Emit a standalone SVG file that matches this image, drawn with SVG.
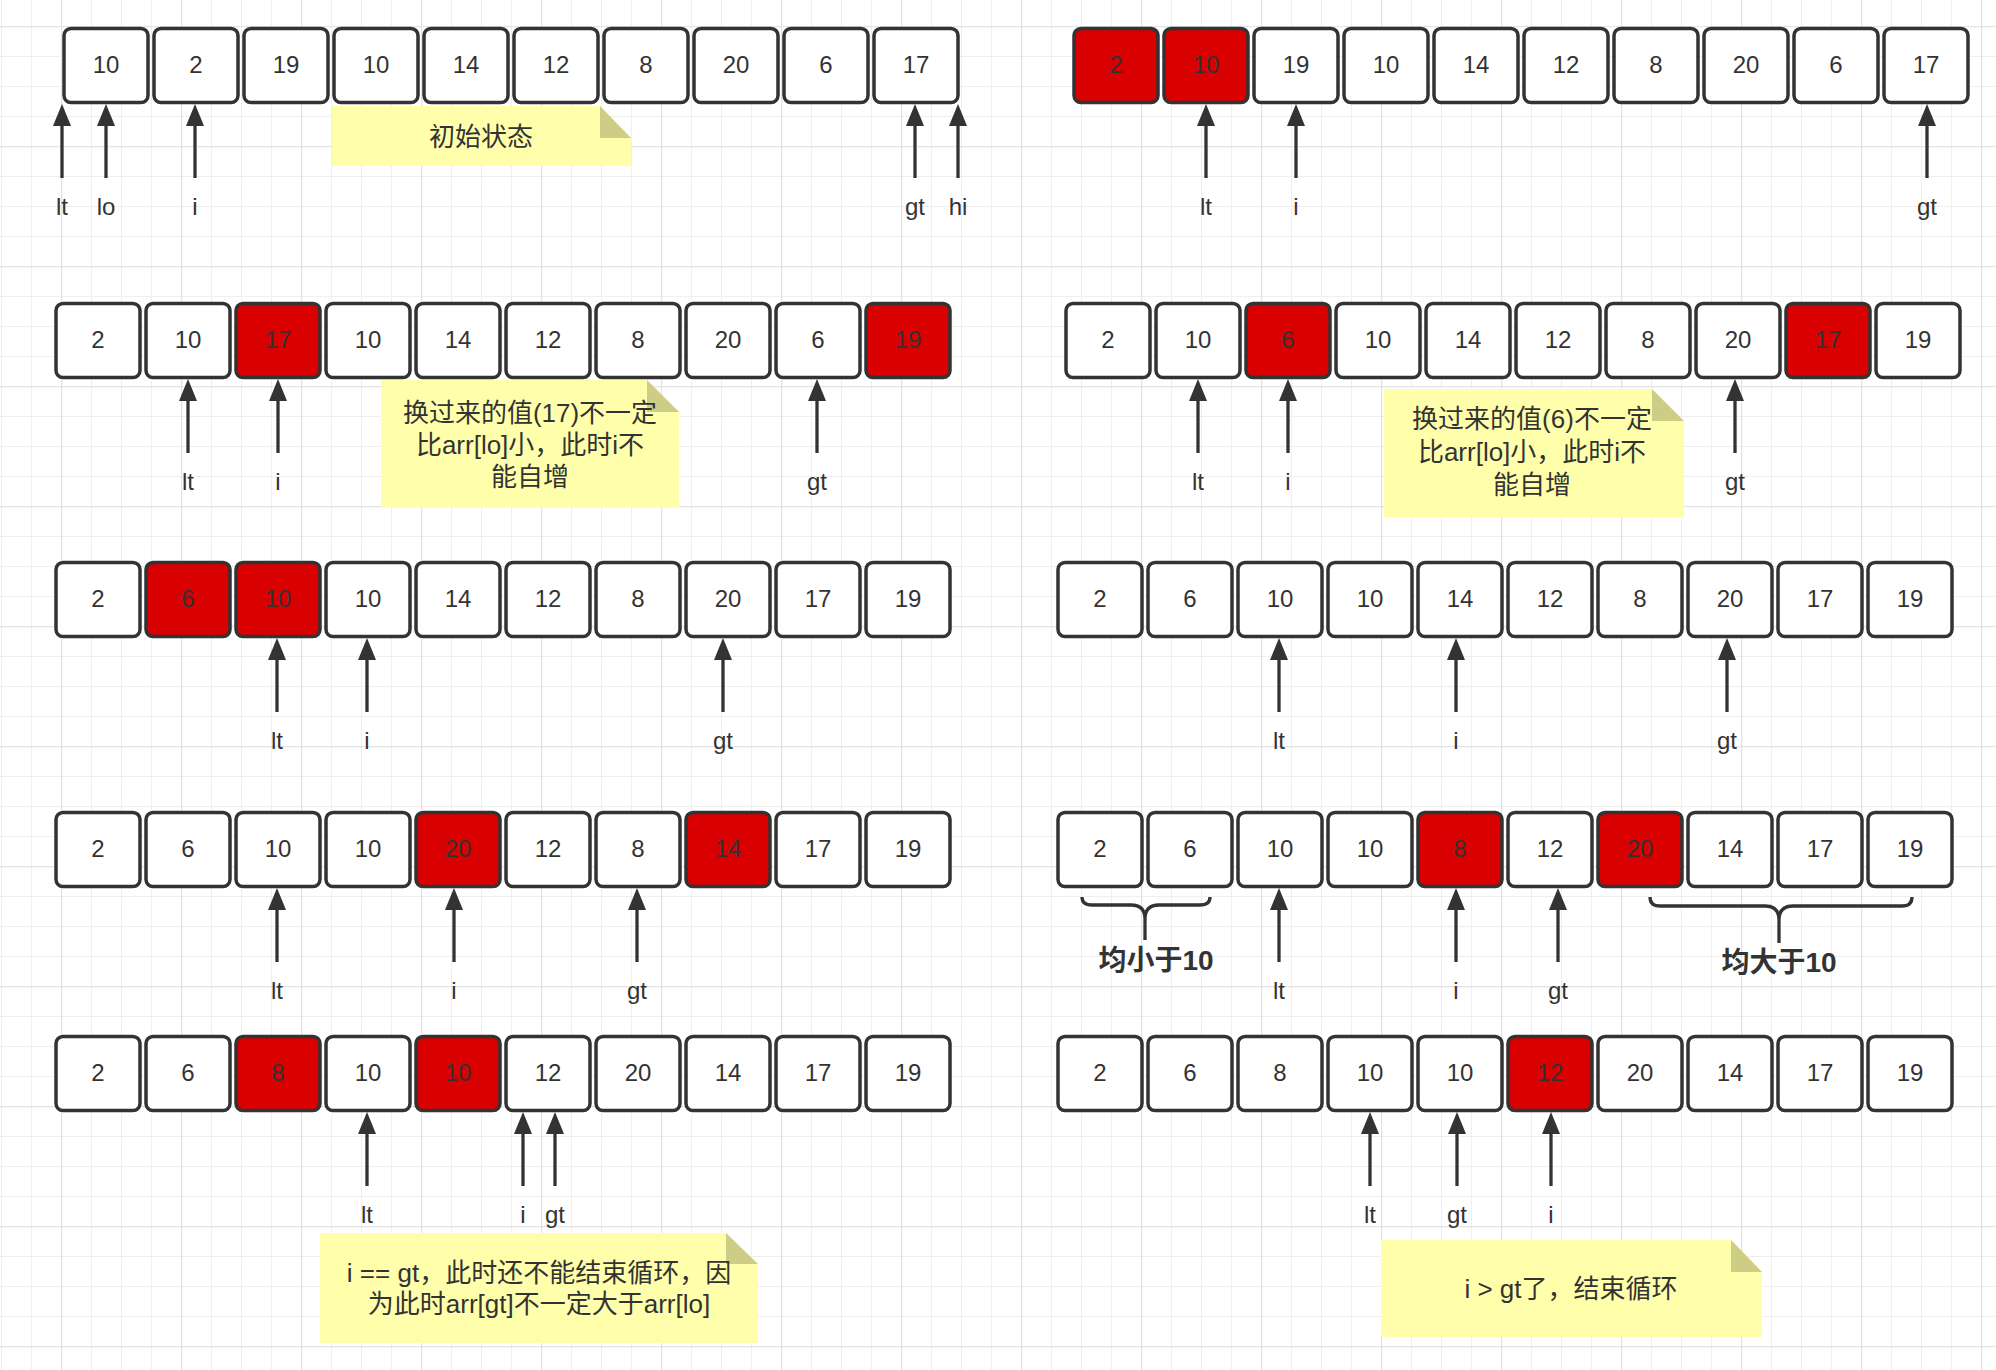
<svg xmlns="http://www.w3.org/2000/svg" width="1996" height="1370" viewBox="0 0 1996 1370">
<defs>
<pattern id="grid" x="61" y="26" width="120" height="120" patternUnits="userSpaceOnUse">
<path d="M30.5 0V120M60.5 0V120M90.5 0V120M0 30.5H120M0 60.5H120M0 90.5H120" stroke="#efefef" stroke-width="1" fill="none"/>
<path d="M0.5 0V120M0 0.5H120" stroke="#e3e3e3" stroke-width="1.5" fill="none"/>
</pattern>
<marker id="ah" viewBox="0 0 22 18" refX="9" refY="9" markerWidth="22" markerHeight="18" markerUnits="userSpaceOnUse" orient="auto">
<path d="M0 0L22 9L0 18Z" fill="#333"/>
</marker>
</defs>
<style>
.b{fill:#fff;stroke:#333;stroke-width:3.5}
.r{fill:#d80000;stroke:#333;stroke-width:3.5}
.t{font-family:"Liberation Sans","Noto Sans CJK SC",sans-serif;font-size:24px;fill:#333;text-anchor:middle}
.n{font-family:"Liberation Sans","Noto Sans CJK SC",sans-serif;font-size:26px;fill:#333;text-anchor:middle}
.bl{font-family:"Liberation Sans","Noto Sans CJK SC",sans-serif;font-size:28px;font-weight:bold;fill:#333;text-anchor:middle}
.a{stroke:#333;stroke-width:3.3;fill:none;marker-end:url(#ah)}
.note{fill:#ffffab}
.fold{fill:#cdcd85}
.br{stroke:#333;stroke-width:3.3;fill:none}
</style>
<rect width="1996" height="1370" fill="#fff"/>
<rect width="1996" height="1370" fill="url(#grid)"/>

<!-- Row 1 left -->
<g id="r1l">
<g id="r1l-0"><rect class="b" x="64" y="28.5" width="84" height="74" rx="7"/><text class="t" x="106" y="73">10</text></g>
<g id="r1l-1"><rect class="b" x="154" y="28.5" width="84" height="74" rx="7"/><text class="t" x="196" y="73">2</text></g>
<g id="r1l-2"><rect class="b" x="244" y="28.5" width="84" height="74" rx="7"/><text class="t" x="286" y="73">19</text></g>
<g id="r1l-3"><rect class="b" x="334" y="28.5" width="84" height="74" rx="7"/><text class="t" x="376" y="73">10</text></g>
<g id="r1l-4"><rect class="b" x="424" y="28.5" width="84" height="74" rx="7"/><text class="t" x="466" y="73">14</text></g>
<g id="r1l-5"><rect class="b" x="514" y="28.5" width="84" height="74" rx="7"/><text class="t" x="556" y="73">12</text></g>
<g id="r1l-6"><rect class="b" x="604" y="28.5" width="84" height="74" rx="7"/><text class="t" x="646" y="73">8</text></g>
<g id="r1l-7"><rect class="b" x="694" y="28.5" width="84" height="74" rx="7"/><text class="t" x="736" y="73">20</text></g>
<g id="r1l-8"><rect class="b" x="784" y="28.5" width="84" height="74" rx="7"/><text class="t" x="826" y="73">6</text></g>
<g id="r1l-9"><rect class="b" x="874" y="28.5" width="84" height="74" rx="7"/><text class="t" x="916" y="73">17</text></g>
</g>
<!-- Row 1 right -->
<g id="r1r">
<g id="r1r-0"><rect class="r" x="1074" y="28.5" width="84" height="74" rx="7"/><text class="t" x="1116" y="73">2</text></g>
<g id="r1r-1"><rect class="r" x="1164" y="28.5" width="84" height="74" rx="7"/><text class="t" x="1206" y="73">10</text></g>
<g id="r1r-2"><rect class="b" x="1254" y="28.5" width="84" height="74" rx="7"/><text class="t" x="1296" y="73">19</text></g>
<g id="r1r-3"><rect class="b" x="1344" y="28.5" width="84" height="74" rx="7"/><text class="t" x="1386" y="73">10</text></g>
<g id="r1r-4"><rect class="b" x="1434" y="28.5" width="84" height="74" rx="7"/><text class="t" x="1476" y="73">14</text></g>
<g id="r1r-5"><rect class="b" x="1524" y="28.5" width="84" height="74" rx="7"/><text class="t" x="1566" y="73">12</text></g>
<g id="r1r-6"><rect class="b" x="1614" y="28.5" width="84" height="74" rx="7"/><text class="t" x="1656" y="73">8</text></g>
<g id="r1r-7"><rect class="b" x="1704" y="28.5" width="84" height="74" rx="7"/><text class="t" x="1746" y="73">20</text></g>
<g id="r1r-8"><rect class="b" x="1794" y="28.5" width="84" height="74" rx="7"/><text class="t" x="1836" y="73">6</text></g>
<g id="r1r-9"><rect class="b" x="1884" y="28.5" width="84" height="74" rx="7"/><text class="t" x="1926" y="73">17</text></g>
</g>
<!-- Row 2 left -->
<g id="r2l">
<g id="r2l-0"><rect class="b" x="56" y="303.5" width="84" height="74" rx="7"/><text class="t" x="98" y="348">2</text></g>
<g id="r2l-1"><rect class="b" x="146" y="303.5" width="84" height="74" rx="7"/><text class="t" x="188" y="348">10</text></g>
<g id="r2l-2"><rect class="r" x="236" y="303.5" width="84" height="74" rx="7"/><text class="t" x="278" y="348">17</text></g>
<g id="r2l-3"><rect class="b" x="326" y="303.5" width="84" height="74" rx="7"/><text class="t" x="368" y="348">10</text></g>
<g id="r2l-4"><rect class="b" x="416" y="303.5" width="84" height="74" rx="7"/><text class="t" x="458" y="348">14</text></g>
<g id="r2l-5"><rect class="b" x="506" y="303.5" width="84" height="74" rx="7"/><text class="t" x="548" y="348">12</text></g>
<g id="r2l-6"><rect class="b" x="596" y="303.5" width="84" height="74" rx="7"/><text class="t" x="638" y="348">8</text></g>
<g id="r2l-7"><rect class="b" x="686" y="303.5" width="84" height="74" rx="7"/><text class="t" x="728" y="348">20</text></g>
<g id="r2l-8"><rect class="b" x="776" y="303.5" width="84" height="74" rx="7"/><text class="t" x="818" y="348">6</text></g>
<g id="r2l-9"><rect class="r" x="866" y="303.5" width="84" height="74" rx="7"/><text class="t" x="908" y="348">19</text></g>
</g>
<!-- Row 2 right -->
<g id="r2r">
<g id="r2r-0"><rect class="b" x="1066" y="303.5" width="84" height="74" rx="7"/><text class="t" x="1108" y="348">2</text></g>
<g id="r2r-1"><rect class="b" x="1156" y="303.5" width="84" height="74" rx="7"/><text class="t" x="1198" y="348">10</text></g>
<g id="r2r-2"><rect class="r" x="1246" y="303.5" width="84" height="74" rx="7"/><text class="t" x="1288" y="348">6</text></g>
<g id="r2r-3"><rect class="b" x="1336" y="303.5" width="84" height="74" rx="7"/><text class="t" x="1378" y="348">10</text></g>
<g id="r2r-4"><rect class="b" x="1426" y="303.5" width="84" height="74" rx="7"/><text class="t" x="1468" y="348">14</text></g>
<g id="r2r-5"><rect class="b" x="1516" y="303.5" width="84" height="74" rx="7"/><text class="t" x="1558" y="348">12</text></g>
<g id="r2r-6"><rect class="b" x="1606" y="303.5" width="84" height="74" rx="7"/><text class="t" x="1648" y="348">8</text></g>
<g id="r2r-7"><rect class="b" x="1696" y="303.5" width="84" height="74" rx="7"/><text class="t" x="1738" y="348">20</text></g>
<g id="r2r-8"><rect class="r" x="1786" y="303.5" width="84" height="74" rx="7"/><text class="t" x="1828" y="348">17</text></g>
<g id="r2r-9"><rect class="b" x="1876" y="303.5" width="84" height="74" rx="7"/><text class="t" x="1918" y="348">19</text></g>
</g>
<!-- Row 3 left -->
<g id="r3l">
<g id="r3l-0"><rect class="b" x="56" y="562.5" width="84" height="74" rx="7"/><text class="t" x="98" y="607">2</text></g>
<g id="r3l-1"><rect class="r" x="146" y="562.5" width="84" height="74" rx="7"/><text class="t" x="188" y="607">6</text></g>
<g id="r3l-2"><rect class="r" x="236" y="562.5" width="84" height="74" rx="7"/><text class="t" x="278" y="607">10</text></g>
<g id="r3l-3"><rect class="b" x="326" y="562.5" width="84" height="74" rx="7"/><text class="t" x="368" y="607">10</text></g>
<g id="r3l-4"><rect class="b" x="416" y="562.5" width="84" height="74" rx="7"/><text class="t" x="458" y="607">14</text></g>
<g id="r3l-5"><rect class="b" x="506" y="562.5" width="84" height="74" rx="7"/><text class="t" x="548" y="607">12</text></g>
<g id="r3l-6"><rect class="b" x="596" y="562.5" width="84" height="74" rx="7"/><text class="t" x="638" y="607">8</text></g>
<g id="r3l-7"><rect class="b" x="686" y="562.5" width="84" height="74" rx="7"/><text class="t" x="728" y="607">20</text></g>
<g id="r3l-8"><rect class="b" x="776" y="562.5" width="84" height="74" rx="7"/><text class="t" x="818" y="607">17</text></g>
<g id="r3l-9"><rect class="b" x="866" y="562.5" width="84" height="74" rx="7"/><text class="t" x="908" y="607">19</text></g>
</g>
<!-- Row 3 right -->
<g id="r3r">
<g id="r3r-0"><rect class="b" x="1058" y="562.5" width="84" height="74" rx="7"/><text class="t" x="1100" y="607">2</text></g>
<g id="r3r-1"><rect class="b" x="1148" y="562.5" width="84" height="74" rx="7"/><text class="t" x="1190" y="607">6</text></g>
<g id="r3r-2"><rect class="b" x="1238" y="562.5" width="84" height="74" rx="7"/><text class="t" x="1280" y="607">10</text></g>
<g id="r3r-3"><rect class="b" x="1328" y="562.5" width="84" height="74" rx="7"/><text class="t" x="1370" y="607">10</text></g>
<g id="r3r-4"><rect class="b" x="1418" y="562.5" width="84" height="74" rx="7"/><text class="t" x="1460" y="607">14</text></g>
<g id="r3r-5"><rect class="b" x="1508" y="562.5" width="84" height="74" rx="7"/><text class="t" x="1550" y="607">12</text></g>
<g id="r3r-6"><rect class="b" x="1598" y="562.5" width="84" height="74" rx="7"/><text class="t" x="1640" y="607">8</text></g>
<g id="r3r-7"><rect class="b" x="1688" y="562.5" width="84" height="74" rx="7"/><text class="t" x="1730" y="607">20</text></g>
<g id="r3r-8"><rect class="b" x="1778" y="562.5" width="84" height="74" rx="7"/><text class="t" x="1820" y="607">17</text></g>
<g id="r3r-9"><rect class="b" x="1868" y="562.5" width="84" height="74" rx="7"/><text class="t" x="1910" y="607">19</text></g>
</g>
<!-- Row 4 left -->
<g id="r4l">
<g id="r4l-0"><rect class="b" x="56" y="812.5" width="84" height="74" rx="7"/><text class="t" x="98" y="857">2</text></g>
<g id="r4l-1"><rect class="b" x="146" y="812.5" width="84" height="74" rx="7"/><text class="t" x="188" y="857">6</text></g>
<g id="r4l-2"><rect class="b" x="236" y="812.5" width="84" height="74" rx="7"/><text class="t" x="278" y="857">10</text></g>
<g id="r4l-3"><rect class="b" x="326" y="812.5" width="84" height="74" rx="7"/><text class="t" x="368" y="857">10</text></g>
<g id="r4l-4"><rect class="r" x="416" y="812.5" width="84" height="74" rx="7"/><text class="t" x="458" y="857">20</text></g>
<g id="r4l-5"><rect class="b" x="506" y="812.5" width="84" height="74" rx="7"/><text class="t" x="548" y="857">12</text></g>
<g id="r4l-6"><rect class="b" x="596" y="812.5" width="84" height="74" rx="7"/><text class="t" x="638" y="857">8</text></g>
<g id="r4l-7"><rect class="r" x="686" y="812.5" width="84" height="74" rx="7"/><text class="t" x="728" y="857">14</text></g>
<g id="r4l-8"><rect class="b" x="776" y="812.5" width="84" height="74" rx="7"/><text class="t" x="818" y="857">17</text></g>
<g id="r4l-9"><rect class="b" x="866" y="812.5" width="84" height="74" rx="7"/><text class="t" x="908" y="857">19</text></g>
</g>
<!-- Row 4 right -->
<g id="r4r">
<g id="r4r-0"><rect class="b" x="1058" y="812.5" width="84" height="74" rx="7"/><text class="t" x="1100" y="857">2</text></g>
<g id="r4r-1"><rect class="b" x="1148" y="812.5" width="84" height="74" rx="7"/><text class="t" x="1190" y="857">6</text></g>
<g id="r4r-2"><rect class="b" x="1238" y="812.5" width="84" height="74" rx="7"/><text class="t" x="1280" y="857">10</text></g>
<g id="r4r-3"><rect class="b" x="1328" y="812.5" width="84" height="74" rx="7"/><text class="t" x="1370" y="857">10</text></g>
<g id="r4r-4"><rect class="r" x="1418" y="812.5" width="84" height="74" rx="7"/><text class="t" x="1460" y="857">8</text></g>
<g id="r4r-5"><rect class="b" x="1508" y="812.5" width="84" height="74" rx="7"/><text class="t" x="1550" y="857">12</text></g>
<g id="r4r-6"><rect class="r" x="1598" y="812.5" width="84" height="74" rx="7"/><text class="t" x="1640" y="857">20</text></g>
<g id="r4r-7"><rect class="b" x="1688" y="812.5" width="84" height="74" rx="7"/><text class="t" x="1730" y="857">14</text></g>
<g id="r4r-8"><rect class="b" x="1778" y="812.5" width="84" height="74" rx="7"/><text class="t" x="1820" y="857">17</text></g>
<g id="r4r-9"><rect class="b" x="1868" y="812.5" width="84" height="74" rx="7"/><text class="t" x="1910" y="857">19</text></g>
</g>
<!-- Row 5 left -->
<g id="r5l">
<g id="r5l-0"><rect class="b" x="56" y="1036.5" width="84" height="74" rx="7"/><text class="t" x="98" y="1081">2</text></g>
<g id="r5l-1"><rect class="b" x="146" y="1036.5" width="84" height="74" rx="7"/><text class="t" x="188" y="1081">6</text></g>
<g id="r5l-2"><rect class="r" x="236" y="1036.5" width="84" height="74" rx="7"/><text class="t" x="278" y="1081">8</text></g>
<g id="r5l-3"><rect class="b" x="326" y="1036.5" width="84" height="74" rx="7"/><text class="t" x="368" y="1081">10</text></g>
<g id="r5l-4"><rect class="r" x="416" y="1036.5" width="84" height="74" rx="7"/><text class="t" x="458" y="1081">10</text></g>
<g id="r5l-5"><rect class="b" x="506" y="1036.5" width="84" height="74" rx="7"/><text class="t" x="548" y="1081">12</text></g>
<g id="r5l-6"><rect class="b" x="596" y="1036.5" width="84" height="74" rx="7"/><text class="t" x="638" y="1081">20</text></g>
<g id="r5l-7"><rect class="b" x="686" y="1036.5" width="84" height="74" rx="7"/><text class="t" x="728" y="1081">14</text></g>
<g id="r5l-8"><rect class="b" x="776" y="1036.5" width="84" height="74" rx="7"/><text class="t" x="818" y="1081">17</text></g>
<g id="r5l-9"><rect class="b" x="866" y="1036.5" width="84" height="74" rx="7"/><text class="t" x="908" y="1081">19</text></g>
</g>
<!-- Row 5 right -->
<g id="r5r">
<g id="r5r-0"><rect class="b" x="1058" y="1036.5" width="84" height="74" rx="7"/><text class="t" x="1100" y="1081">2</text></g>
<g id="r5r-1"><rect class="b" x="1148" y="1036.5" width="84" height="74" rx="7"/><text class="t" x="1190" y="1081">6</text></g>
<g id="r5r-2"><rect class="b" x="1238" y="1036.5" width="84" height="74" rx="7"/><text class="t" x="1280" y="1081">8</text></g>
<g id="r5r-3"><rect class="b" x="1328" y="1036.5" width="84" height="74" rx="7"/><text class="t" x="1370" y="1081">10</text></g>
<g id="r5r-4"><rect class="b" x="1418" y="1036.5" width="84" height="74" rx="7"/><text class="t" x="1460" y="1081">10</text></g>
<g id="r5r-5"><rect class="r" x="1508" y="1036.5" width="84" height="74" rx="7"/><text class="t" x="1550" y="1081">12</text></g>
<g id="r5r-6"><rect class="b" x="1598" y="1036.5" width="84" height="74" rx="7"/><text class="t" x="1640" y="1081">20</text></g>
<g id="r5r-7"><rect class="b" x="1688" y="1036.5" width="84" height="74" rx="7"/><text class="t" x="1730" y="1081">14</text></g>
<g id="r5r-8"><rect class="b" x="1778" y="1036.5" width="84" height="74" rx="7"/><text class="t" x="1820" y="1081">17</text></g>
<g id="r5r-9"><rect class="b" x="1868" y="1036.5" width="84" height="74" rx="7"/><text class="t" x="1910" y="1081">19</text></g>
</g>

<!-- Notes -->
<g id="note1">
<path class="note" d="M332 106H600L631 138V166H332Z"/><path class="fold" d="M600 106L631 138H600Z"/>
<text class="n" x="481" y="146">初始状态</text>
</g>
<g id="note2">
<path class="note" d="M381 380H647L679 412V507H381Z"/><path class="fold" d="M647 380L679 412H647Z"/>
<text class="n" x="530" y="422">换过来的值(17)不一定</text>
<text class="n" x="530" y="454">比arr[lo]小，此时i不</text>
<text class="n" x="530" y="486">能自增</text>
</g>
<g id="note3">
<path class="note" d="M1384 389H1652L1684 421V517H1384Z"/><path class="fold" d="M1652 389L1684 421H1652Z"/>
<text class="n" x="1532" y="428">换过来的值(6)不一定</text>
<text class="n" x="1532" y="461">比arr[lo]小，此时i不</text>
<text class="n" x="1532" y="494">能自增</text>
</g>
<g id="note4">
<path class="note" d="M320 1233H726L758 1264V1343H320Z"/><path class="fold" d="M726 1233L758 1264H726Z"/>
<text class="n" x="539" y="1282">i == gt，此时还不能结束循环，因</text>
<text class="n" x="539" y="1313">为此时arr[gt]不一定大于arr[lo]</text>
</g>
<g id="note5">
<path class="note" d="M1381 1240H1731L1762 1272V1337H1381Z"/><path class="fold" d="M1731 1240L1762 1272H1731Z"/>
<text class="n" x="1571" y="1298">i &gt; gt了，结束循环</text>
</g>

<!-- Brace annotations -->
<g id="brace-small">
<path class="br" d="M1082 897Q1082 905 1092 905H1131Q1145 905 1145 919V940M1145 919Q1145 905 1159 905H1200Q1210 905 1210 897"/>
<text class="bl" x="1156" y="970">均小于10</text>
</g>
<g id="brace-big">
<path class="br" d="M1650 897Q1650 906 1660 906H1765Q1779 906 1779 920V943M1779 920Q1779 906 1793 906H1902Q1912 906 1912 897"/>
<text class="bl" x="1779" y="972">均大于10</text>
</g>

<!-- Pointer labels -->
<g id="labels">
<text class="t" x="62" y="215">lt</text><text class="t" x="106" y="215">lo</text><text class="t" x="195" y="215">i</text><text class="t" x="915" y="215">gt</text><text class="t" x="958" y="215">hi</text>
<text class="t" x="1206" y="215">lt</text><text class="t" x="1296" y="215">i</text><text class="t" x="1927" y="215">gt</text>
<text class="t" x="188" y="490">lt</text><text class="t" x="278" y="490">i</text><text class="t" x="817" y="490">gt</text>
<text class="t" x="1198" y="490">lt</text><text class="t" x="1288" y="490">i</text><text class="t" x="1735" y="490">gt</text>
<text class="t" x="277" y="749">lt</text><text class="t" x="367" y="749">i</text><text class="t" x="723" y="749">gt</text>
<text class="t" x="1279" y="749">lt</text><text class="t" x="1456" y="749">i</text><text class="t" x="1727" y="749">gt</text>
<text class="t" x="277" y="999">lt</text><text class="t" x="454" y="999">i</text><text class="t" x="637" y="999">gt</text>
<text class="t" x="1279" y="999">lt</text><text class="t" x="1456" y="999">i</text><text class="t" x="1558" y="999">gt</text>
<text class="t" x="367" y="1223">lt</text><text class="t" x="523" y="1223">i</text><text class="t" x="555" y="1223">gt</text>
<text class="t" x="1370" y="1223">lt</text><text class="t" x="1457" y="1223">gt</text><text class="t" x="1551" y="1223">i</text>
</g>

<!-- Connectors -->
<g id="connectors">
<path class="a" d="M62 178V117"/><path class="a" d="M106 178V117"/><path class="a" d="M195 178V117"/><path class="a" d="M915 178V117"/><path class="a" d="M958 178V117"/>
<path class="a" d="M1206 178V117"/><path class="a" d="M1296 178V117"/><path class="a" d="M1927 178V117"/>
<path class="a" d="M188 453V392"/><path class="a" d="M278 453V392"/><path class="a" d="M817 453V392"/>
<path class="a" d="M1198 453V392"/><path class="a" d="M1288 453V392"/><path class="a" d="M1735 453V392"/>
<path class="a" d="M277 712V651"/><path class="a" d="M367 712V651"/><path class="a" d="M723 712V651"/>
<path class="a" d="M1279 712V651"/><path class="a" d="M1456 712V651"/><path class="a" d="M1727 712V651"/>
<path class="a" d="M277 962V901"/><path class="a" d="M454 962V901"/><path class="a" d="M637 962V901"/>
<path class="a" d="M1279 962V901"/><path class="a" d="M1456 962V901"/><path class="a" d="M1558 962V901"/>
<path class="a" d="M367 1186V1125"/><path class="a" d="M523 1186V1125"/><path class="a" d="M555 1186V1125"/>
<path class="a" d="M1370 1186V1125"/><path class="a" d="M1457 1186V1125"/><path class="a" d="M1551 1186V1125"/>
</g>
</svg>
